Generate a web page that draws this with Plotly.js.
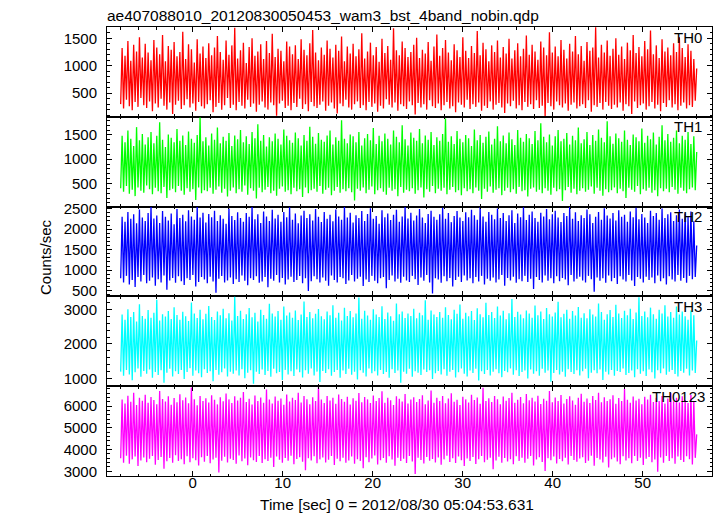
<!DOCTYPE html>
<html>
<head>
<meta charset="utf-8">
<script src="https://cdn.plot.ly/plotly-3.0.1.min.js"></script>
<style>html,body{margin:0;padding:0;background:#fff;}#chart{width:717px;height:516px;}</style>
</head>
<body>
<div id="chart"></div>
<script>
// Time grid (seconds from 2012/08/30 05:04:53.631)
const tStart = -8.0;
const tEnd = 56.0;

const panelLabels = ["TH0", "TH1", "TH2", "TH3", "TH0123"];
const panelColors = ["#ff0000", "#00ff00", "#0000ff", "#00ffff", "#ff00ff"];

// Counts/sec (local troughs / peaks of the dense light curve)
const th0 = [
300,1320,220,1180,380,1450,260,1090,190,1380,340,1260,250,1520,410,1150,280,1400,230,1240,
350,1100,170,1470,310,1330,240,1210,400,1560,270,1080,200,1360,330,1290,120,1430,290,1170,
360,1250,210,1620,280,1120,390,1390,240,1300,310,1060,180,1480,340,1220,260,1350,220,1140,
300,1410,370,1190,150,1330,250,1540,320,1250,200,1110,280,1460,410,1200,230,1370,290,1690,
190,1130,340,1280,270,1420,220,1050,380,1340,250,1500,310,1180,160,1260,290,1390,350,1120,
240,1450,200,1230,330,1580,280,1160,90,1310,310,1270,360,1080,230,1440,270,1350,190,1210,
320,1370,250,1120,400,1480,210,1290,300,1190,170,1410,340,1650,260,1240,230,1100,290,1330,
350,1200,180,1460,270,1310,330,1150,220,1380,130,1270,310,1530,260,1080,380,1350,240,1220,
200,1400,300,1170,350,1300,230,1590,280,1130,190,1260,340,1420,250,1190,310,1340,160,1070,
270,1490,220,1230,390,1360,290,1110,240,1680,330,1280,180,1190,300,1440,260,1320,210,1160,
350,1250,280,1380,110,1510,320,1140,240,1290,300,1220,200,1430,370,1090,260,1350,230,1570,
310,1180,190,1320,280,1470,340,1240,220,1100,260,1390,150,1280,330,1160,290,1520,240,1270,
380,1140,210,1360,300,1230,250,1630,330,1190,180,1420,270,1300,230,1080,350,1370,200,1250,
290,1460,320,1150,240,1340,140,1220,310,1490,260,1130,360,1280,220,1410,280,1170,190,1310,
340,1550,250,1200,300,1380,210,1260,370,1110,230,1440,270,1330,80,1190,320,1610,260,1240,
200,1350,350,1170,280,1470,240,1290,310,1130,180,1400,290,1260,330,1540,220,1210,260,1360,
300,1090,230,1430,370,1270,160,1330,280,1700,250,1150,320,1380,200,1240,340,1460,270,1180,
210,1310,290,1500,240,1200,330,1350,180,1120,300,1420,260,1280,120,1560,350,1230,230,1340,
280,1170,310,1450,200,1300,260,1640,340,1210,220,1370,290,1140,170,1480,320,1260,250,1330,
370,1190,240,1410,300,1250,190,1520,270,1320,330,1160,220,1390,280,1270,250,1120,360,950
];
const th1 = [
400,1480,330,1350,450,1590,290,1420,370,1270,240,1660,420,1390,350,1520,310,1300,460,1450,
380,1560,280,1330,410,1480,340,1760,300,1400,430,1250,200,1510,360,1440,390,1350,320,1620,
450,1380,350,1490,270,1290,400,1570,330,1420,380,1340,160,1500,420,1860,300,1370,360,1450,
340,1280,410,1530,290,1400,370,1650,440,1330,310,1460,390,1380,230,1540,350,1270,420,1490,
300,1410,380,1600,330,1350,460,1470,270,1310,400,1560,350,1430,190,1720,410,1380,320,1500,
370,1260,430,1450,300,1370,350,1530,250,1420,390,1300,440,1610,330,1480,360,1390,280,1340,
410,1550,340,1430,380,1280,220,1500,420,1380,300,1670,360,1460,390,1320,330,1540,450,1400,
290,1360,370,1490,410,1590,260,1300,350,1450,430,1380,310,1800,380,1420,340,1330,400,1510,
320,1470,150,1350,390,1560,350,1280,420,1430,300,1520,370,1390,440,1640,280,1310,360,1480,
400,1370,330,1530,270,1420,410,1300,350,1590,380,1460,240,1350,430,1700,310,1410,370,1280,
340,1550,400,1440,290,1380,360,1620,420,1330,210,1490,380,1400,330,1560,450,1290,300,1450,
390,1380,350,1520,410,1840,280,1360,370,1470,430,1310,320,1580,360,1420,260,1350,400,1500,
340,1430,380,1270,300,1610,420,1390,350,1500,180,1340,390,1460,330,1570,440,1300,310,1420,
370,1680,400,1370,260,1490,350,1330,410,1550,320,1410,380,1290,290,1600,430,1440,340,1360,
360,1520,230,1430,390,1310,420,1580,330,1390,370,1740,300,1460,400,1350,350,1510,270,1280,
410,1470,340,1600,380,1370,140,1420,360,1540,430,1300,310,1480,390,1390,280,1650,350,1330,
400,1410,330,1560,370,1290,440,1500,290,1380,410,1610,350,1440,250,1350,380,1780,320,1470,
360,1320,420,1530,300,1430,390,1360,340,1590,200,1400,410,1290,370,1510,330,1450,450,1370,
280,1630,380,1340,350,1480,410,1410,310,1550,360,1300,240,1460,400,1700,340,1390,390,1520,
320,1360,430,1440,370,1590,290,1330,410,1480,350,1400,300,1560,380,1310,420,1470,360,1150
];
const th2 = [
800,2300,700,2180,860,2420,650,2250,760,2360,590,2140,830,2480,720,2280,880,2200,680,2390,
740,2550,820,2260,620,2330,780,2150,700,2440,870,2300,520,2210,750,2380,810,2120,690,2490,
850,2270,730,2350,640,2190,800,2460,760,2310,880,2230,600,2540,710,2280,830,2400,770,2160,
680,2370,840,2290,720,2450,450,2200,790,2340,860,2250,700,2130,750,2500,820,2320,660,2220,
780,2410,710,2270,870,2180,740,2390,630,2300,800,2550,760,2240,850,2360,690,2150,720,2430,
830,2310,580,2200,790,2470,740,2260,880,2350,700,2180,810,2420,650,2290,770,2530,840,2230,
710,2380,760,2140,860,2330,680,2450,800,2270,490,2360,730,2210,850,2490,780,2300,700,2170,
820,2420,740,2250,620,2350,870,2190,760,2480,700,2310,830,2230,800,2550,660,2280,750,2400,
880,2160,720,2340,790,2270,840,2440,610,2200,770,2370,710,2510,860,2250,740,2320,680,2130,
800,2460,830,2290,560,2380,760,2220,870,2350,720,2470,790,2180,690,2310,840,2540,750,2260,
710,2400,860,2210,780,2330,640,2490,820,2280,740,2150,880,2370,700,2450,430,2300,800,2230,
770,2360,690,2520,850,2250,730,2390,810,2170,600,2320,760,2440,840,2280,710,2200,870,2410,
750,2290,800,2470,680,2340,830,2230,720,2550,860,2310,650,2180,790,2420,740,2350,820,2240,
700,2500,770,2270,880,2390,620,2200,810,2340,750,2460,840,2150,690,2380,780,2290,730,2530,
860,2220,710,2350,790,2430,540,2270,830,2180,760,2400,700,2310,870,2490,740,2240,800,2360,
680,2450,850,2280,730,2170,810,2390,770,2320,630,2540,880,2250,720,2410,790,2200,840,2340,
750,2270,700,2480,860,2360,780,2150,470,2300,820,2420,740,2230,800,2510,690,2330,870,2260,
730,2390,810,2210,660,2460,850,2300,770,2350,720,2180,880,2430,750,2290,610,2520,830,2240,
790,2370,700,2280,840,2150,760,2450,820,2320,680,2390,870,2230,730,2500,800,2270,650,2360,
850,2410,770,2200,720,2340,880,2480,740,2250,810,2380,690,2300,860,2430,780,2190,830,1600
];
const th3 = [
1200,2850,1080,2700,1250,3000,1120,2780,950,2920,1180,2650,1290,3150,1050,2810,1220,2730,1140,2980,
1260,2760,1020,2900,1190,3280,1100,2680,1240,2860,880,2790,1170,2950,1280,2720,1060,3060,1210,2840,
1130,2700,1250,2930,990,2800,1190,2660,1300,3200,1080,2880,1230,2750,1150,2990,1040,2710,1270,2870,
1160,3100,1210,2780,920,2690,1250,2940,1110,2830,1180,3020,1290,2740,1060,2890,1200,2680,1140,3370,
1230,2810,1090,2960,1270,2720,1010,2860,1170,3040,1240,2770,850,2900,1200,2650,1130,2990,1260,2840,
1100,2730,1220,3160,1050,2880,1280,2790,1150,2950,1190,2700,960,3080,1250,2820,1120,2910,1210,2760,
1070,2970,1260,2690,1180,2850,1030,3230,1240,2780,1140,2920,1290,2740,1090,2870,1200,3010,900,2800,
1220,2710,1160,2940,1270,2830,1080,3120,1190,2760,1250,2900,1020,2680,1230,3050,1130,2810,1280,2950,
1110,2770,1200,2880,970,3340,1240,2730,1170,2960,1060,2820,1290,2700,1150,3000,1210,2850,1090,2780,
1250,3090,1130,2720,1190,2910,1020,2800,1270,2670,1160,3170,1230,2860,880,2940,1200,2750,1140,2880,
1280,2810,1050,3020,1210,2740,1170,2900,1100,2830,1260,3260,1190,2700,1240,2970,990,2850,1150,2780,
1220,2920,1120,2760,1270,3060,1080,2840,1200,2710,1250,2990,1030,2870,1180,3140,1290,2730,1140,2900,
1060,2800,1230,2950,1160,2690,1280,3030,940,2860,1210,2770,1130,3190,1250,2840,1090,2920,1200,2750,
1270,3080,1150,2820,1040,2960,1220,2710,1180,2890,1290,3300,1110,2780,1240,2930,1070,2850,1190,2740,
1230,2970,1000,2880,1260,2760,1140,3110,1210,2830,1080,2940,1280,2720,1170,3040,1230,2860,910,2790,
1160,2910,1250,3220,1120,2770,1200,2870,1050,2990,1270,2730,1190,2950,1130,2820,1240,3070,1090,2760,
1210,2890,1280,2740,1010,3000,1170,2850,1240,2790,1150,3170,1260,2920,960,2700,1200,2860,1120,2980,
1250,2780,1080,3130,1220,2880,1190,2750,1290,2960,1100,2830,1160,3020,1230,2720,1040,2910,1270,3350,
1140,2810,1210,2940,1070,2770,1260,3050,1180,2860,1000,2730,1240,2990,1150,2880,1290,3120,1110,2790,
1200,2920,1250,2760,1130,3080,1060,2850,1220,2940,1170,2800,1280,2700,1090,2970,1230,2830,1160,2100
];
const th0123 = [
3600,6300,3400,6120,3720,6480,3350,6200,3550,6610,3680,6050,3250,6380,3500,6250,3640,6520,3420,6150,
3580,6420,3700,6280,3300,6090,3520,6700,3660,6330,3120,6210,3460,6450,3610,6060,3390,6370,3740,6180,
3480,6550,3560,6270,3330,6400,3690,6130,3420,6860,3600,6320,3510,6040,3270,6460,3650,6240,3440,6360,
3710,6170,3370,6500,3540,6290,3620,6080,2950,6410,3490,6220,3670,6580,3410,6310,3580,6140,3520,6450,
3350,6260,3730,6380,3460,6650,3590,6190,3280,6340,3640,6070,3510,6490,3430,6230,3700,6400,3380,6160,
3560,6770,3470,6300,3620,6120,3200,6440,3680,6250,3530,6350,3400,6060,3610,6530,3490,6210,3720,6390,
3320,6280,3570,6620,3650,6170,3440,6460,3050,6320,3600,6090,3500,6410,3690,6230,3370,6900,3550,6300,
3640,6140,3410,6470,3530,6260,3710,6380,3290,6110,3580,6540,3460,6330,3620,6200,3390,6430,3500,6070,
3680,6360,3350,6250,3560,6600,3480,6180,3140,6420,3650,6310,3420,6140,3590,6490,3730,6230,3310,6370,
3510,6680,3610,6160,3400,6390,3690,6270,3540,6050,3260,6450,3630,6340,3470,6210,3580,6560,3380,6120,
3700,6300,3450,6410,2880,6190,3620,6330,3520,6500,3360,6080,3660,6260,3490,6720,3570,6150,3410,6380,
3640,6240,3300,6460,3550,6130,3720,6350,3430,6590,3600,6200,3380,6290,3680,6050,3510,6430,3250,6310,
3590,6170,3470,6520,3660,6280,3340,6400,3560,6110,3700,6840,3420,6230,3530,6360,3630,6190,3100,6470,
3500,6320,3670,6090,3390,6440,3610,6250,3450,6370,3560,6610,3320,6160,3690,6290,3480,6420,3620,6130,
3400,6560,3580,6270,3710,6380,3270,6210,3540,6480,3650,6100,3430,6340,3020,6250,3600,6690,3510,6180,
3680,6400,3360,6230,3570,6510,3460,6120,3630,6330,3310,6450,3700,6260,3520,6060,3440,6390,3590,6570,
3650,6200,3380,6350,3490,6140,3720,6460,3260,6280,3610,6620,3540,6180,3410,6410,3670,6240,3180,6320,
3560,6500,3640,6110,3450,6370,3330,6230,3690,6790,3500,6290,3600,6150,3370,6440,3710,6260,3480,6340,
3620,6080,3290,6430,3580,6300,3660,6520,3420,6190,3550,6380,2980,6240,3640,6470,3390,6120,3700,6350,
3470,6600,3600,6220,3350,6390,3680,6170,3520,6450,3430,6280,3690,6140,3560,6510,3310,6230,3620,4700
];

const seriesValues = [th0, th1, th2, th3, th0123];
const yRanges = [[69, 1705], [24, 1873], [359, 2549], [778, 3375], [2784, 6917]];
const yMajor = [500, 500, 500, 1000, 1000];
const yMinor = [100, 100, 100, 200, 200];

const W = 717, H = 516;
const mL = 107, mR = 5, mT = 27, mB = 40;
const plotW = W - mL - mR, plotH = H - mT - mB;
const FONT = 'Liberation Sans, Arial, Helvetica, sans-serif';

const traces = [];
const layout = {
  width: W, height: H,
  margin: {l: mL, r: mR, t: mT, b: mB, pad: 0},
  paper_bgcolor: '#ffffff', plot_bgcolor: '#ffffff',
  showlegend: false,
  font: {family: FONT, size: 15, color: '#000000'},
  title: {
    text: 'ae407088010_20120830050453_wam3_bst_4band_nobin.qdp',
    font: {family: FONT, size: 15.5, color: '#000000'},
    xref: 'container', yref: 'container',
    x: 107 / W, xanchor: 'left',
    y: 1 - 15.5 / H, yanchor: 'middle'
  },
  annotations: []
};

const n = seriesValues.length;
for (let k = 0; k < n; k++) {
  const vals = seriesValues[k];
  const N = vals.length;
  const dt = (tEnd - tStart) / (N - 1);
  const t = vals.map((_, i) => tStart + i * dt);
  const sfx = k === 0 ? '' : String(k + 1);
  traces.push({
    type: 'scatter', mode: 'lines',
    x: t, y: vals,
    xaxis: 'x' + sfx, yaxis: 'y' + sfx,
    line: {color: panelColors[k], width: 1.3},
    hoverinfo: 'skip'
  });
  const top = 1 - k / n, bot = 1 - (k + 1) / n;
  layout['xaxis' + sfx] = {
    domain: [0, 1], anchor: 'y' + sfx,
    range: [-9.52, 57.7],
    showline: true, linecolor: '#000000', linewidth: 1, mirror: 'allticks',
    ticks: 'inside', ticklen: 5, tickwidth: 1, tickcolor: '#000000',
    tick0: 0, dtick: 10,
    minor: {dtick: 2, tick0: 0, ticks: 'inside', ticklen: 2.5, tickwidth: 1, tickcolor: '#000000', showgrid: false},
    showgrid: false, zeroline: false,
    showticklabels: k === n - 1,
    ticklabelstandoff: -7,
    tickfont: {family: FONT, size: 15, color: '#000000'}
  };
  if (k > 0) layout['xaxis' + sfx].matches = 'x';
  layout['yaxis' + sfx] = {
    domain: [bot, top], anchor: 'x' + sfx,
    range: yRanges[k],
    showline: true, linecolor: '#000000', linewidth: 1, mirror: 'allticks',
    ticks: 'inside', ticklen: 5, tickwidth: 1, tickcolor: '#000000',
    tick0: 0, dtick: yMajor[k],
    minor: {dtick: yMinor[k], tick0: 0, ticks: 'inside', ticklen: 2.5, tickwidth: 1, tickcolor: '#000000', showgrid: false},
    showgrid: false, zeroline: false,
    tickfont: {family: FONT, size: 15, color: '#000000'},
    ticklabelstandoff: 6
  };
  // panel label (top-right inside)
  const labelRight = k === n - 1 ? 707 : 704;
  const panelTopPx = mT + k * plotH / n;
  layout.annotations.push({
    text: panelLabels[k], showarrow: false,
    xref: 'paper', yref: 'paper',
    x: (labelRight - mL) / plotW, xanchor: 'right',
    y: 1 - (panelTopPx + 10 - mT) / plotH, yanchor: 'middle',
    font: {family: FONT, size: 15, color: '#000000'}
  });
}

// axis titles as annotations
layout.annotations.push({
  text: 'Counts/sec', showarrow: false, textangle: -90,
  xref: 'paper', yref: 'paper',
  x: (45 - mL) / plotW, xanchor: 'center',
  y: 1 - (257 - mT) / plotH, yanchor: 'middle',
  font: {family: FONT, size: 15, color: '#000000'}
});
layout.annotations.push({
  text: 'Time [sec] 0 = 2012/08/30 05:04:53.631', showarrow: false,
  xref: 'paper', yref: 'paper',
  x: (397 - mL) / plotW, xanchor: 'center',
  y: 1 - (504 - mT) / plotH, yanchor: 'middle',
  font: {family: FONT, size: 15.5, color: '#000000'}
});

Plotly.newPlot('chart', traces, layout, {staticPlot: true, displayModeBar: false});
</script>
</body>
</html>
